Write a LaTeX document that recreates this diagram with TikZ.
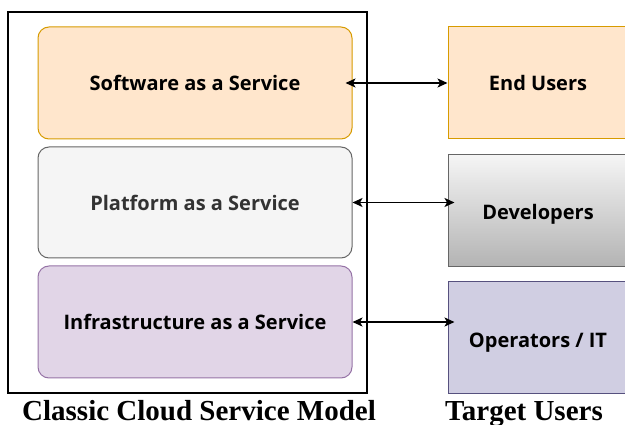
\documentclass[tikz,border=0pt]{standalone}
\usepackage{fontspec}
\setmainfont{Liberation Serif}
\newfontfamily\boxfont{Open Sans}
\usetikzlibrary{arrows.meta}

\definecolor{orangefill}{HTML}{FFE6CC}
\definecolor{orangeline}{HTML}{D79B00}
\definecolor{grayfill}{HTML}{F5F5F5}
\definecolor{grayline}{HTML}{666666}
\definecolor{graytext}{HTML}{333333}
\definecolor{grayshade}{HTML}{B3B3B3}
\definecolor{purplefill}{HTML}{E1D5E7}
\definecolor{purpleline}{HTML}{9673A6}
\definecolor{bluefill}{HTML}{D0CEE2}
\definecolor{blueline}{HTML}{56517E}

\tikzset{
  layerbox/.style={draw, line width=1pt, rounded corners=11pt, inner sep=0pt,
    minimum width=314pt, minimum height=112pt,
    font=\boxfont\bfseries\fontsize{20}{24}\selectfont},
  userbox/.style={draw, line width=1pt, inner sep=0pt,
    minimum width=180pt, minimum height=112pt,
    font=\boxfont\bfseries\fontsize{20}{24}\selectfont},
  caption/.style={anchor=base, inner sep=0pt,
    font=\bfseries\fontsize{29}{32}\selectfont},
  link/.style={line width=1.4pt,
    {Stealth[length=10pt,width=9pt,inset=2.5pt]}-{Stealth[length=10pt,width=9pt,inset=2.5pt]}}
}

\begin{document}
\begin{tikzpicture}[x=1pt,y=-1pt]
\useasboundingbox (0,0) rectangle (625,425);

% service model frame
\node[draw, line width=1.3pt, minimum width=359pt, minimum height=381pt, inner sep=0pt]
  (model) at (187.5,202.5) {};

% service layers
\node[layerbox, fill=orangefill, draw=orangeline] (saas) at (195,83) {Software as a Service};
\node[layerbox, fill=grayfill, draw=grayline, text=graytext, minimum height=111pt]
  (paas) at (195,202.5) {Platform as a Service};
\node[layerbox, fill=purplefill, draw=purpleline] (iaas) at (195,322) {Infrastructure as a Service};

% target user groups (lower two labels sit a little below the box centres)
\node[userbox, fill=orangefill, draw=orangeline] (endu) at (538,83) {End Users};
\node[userbox, draw=grayline, top color=grayfill, bottom color=grayshade,
  text height=17pt, text depth=0.4pt] (dev) at (538,211) {Developers};
\node[userbox, fill=bluefill, draw=blueline,
  text height=19pt, text depth=0.4pt] (ops) at (538,338) {Operators / IT};

% links between layers and users
\draw[link] ([xshift=-7pt]saas.east) -- (endu.west);
\draw[link] (paas.east) -- ([xshift=7pt]dev.west |- paas.east);
\draw[link] (iaas.east) -- ([xshift=7pt]ops.west |- iaas.east);

% captions
\node[caption] (capmodel) at (199,420.5) {Classic Cloud Service Model};
\node[caption] (capusers) at (524,420.5) {Target Users};
\end{tikzpicture}
\end{document}
